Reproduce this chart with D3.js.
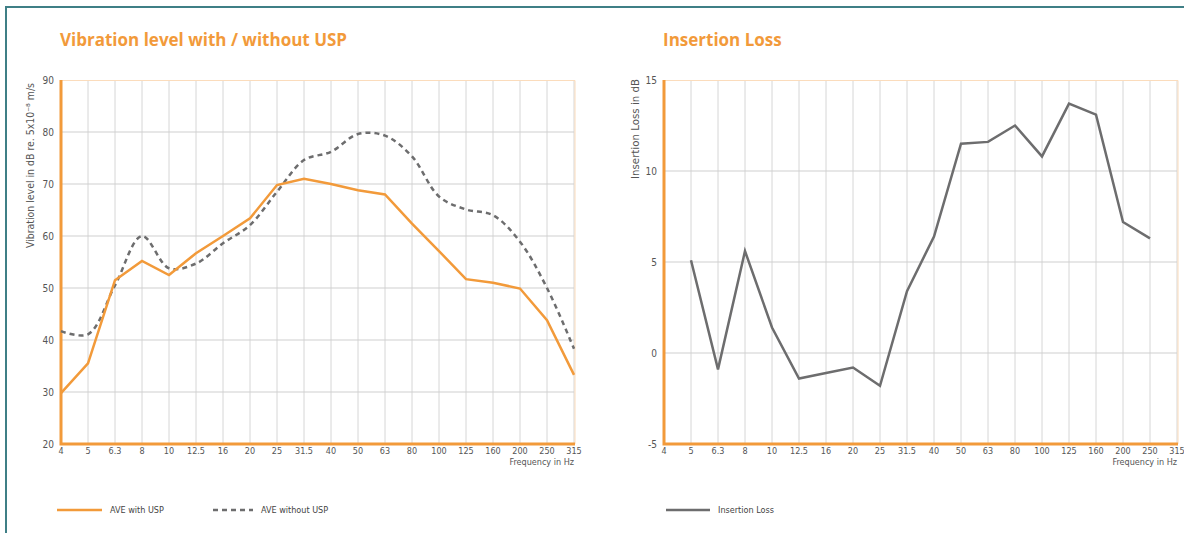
<!DOCTYPE html>
<html>
<head>
<meta charset="utf-8">
<script src="https://cdn.jsdelivr.net/npm/d3@7"></script>
<style>
  body { margin: 0; background: #fff; }
  svg { display: block; font-family: "Open Sans", "DejaVu Sans", sans-serif; }
  .tick-lbl { font-family: "DejaVu Sans Condensed", "Liberation Sans Narrow", sans-serif; font-size: 9px; fill: #555; }
</style>
</head>
<body>
<svg id="chart" width="1184" height="533"></svg>
<script>
// Data
var freqs = ["4", "5", "6.3", "8", "10", "12.5", "16", "20", "25", "31.5", "40", "50", "63", "80", "100", "125", "160", "200", "250", "315"];
var withUSP = [29.8, 35.5, 51.5, 55.2, 52.5, 56.7, 60.0, 63.4, 69.8, 71.0, 70.0, 68.8, 68.0, 62.4, 57.1, 51.7, 51.0, 49.9, 43.8, 33.3];
var withoutUSP = [41.7, 41.1, 50.5, 60.0, 53.8, 54.7, 58.6, 62.1, 68.5, 74.6, 76.2, 79.6, 79.3, 75.3, 67.6, 65.1, 64.0, 58.9, 50.0, 38.3];
var lossFreqs = ["5", "6.3", "8", "10", "12.5", "16", "20", "25", "31.5", "40", "50", "63", "80", "100", "125", "160", "200", "250"];
var insertionLoss = [5.1, -0.9, 5.6, 1.4, -1.4, -1.1, -0.8, -1.8, 3.4, 6.4, 11.5, 11.6, 12.5, 10.8, 13.7, 13.1, 7.2, 6.3];
var vibTicks = [20, 30, 40, 50, 60, 70, 80, 90];
var lossTicks = [-5, 0, 5, 10, 15];

const orange = "#f29a3a";
const grey = "#6d6d6e";
const svg = d3.select("#chart");

// frame
svg.append("path")
  .attr("d", "M6,540 L6,7 L1190,7")
  .style("fill", "none")
  .style("stroke", "#3f7f86")
  .style("stroke-width", 2);

drawPanel = function(opt) {
  const g = svg.append("g").attr("transform", `translate(${opt.left}, 80)`);
  const width = 513, height = 364;

  const x = d3.scalePoint().domain(freqs).range([0, width]);
  const y = d3.scaleLinear().domain(opt.yDomain).range([height, 0]);

  // title
  svg.append("text")
    .attr("x", opt.left - 1).attr("y", 46)
    .text(opt.title)
    .style("font-size", "17px").style("font-weight", "bold")
    .style("fill", orange);

  // grid
  g.append("g").selectAll("line").data(freqs.slice(1))
    .join("line")
    .attr("x1", d => x(d)).attr("x2", d => x(d))
    .attr("y1", 0).attr("y2", height)
    .style("stroke", "#d6d6d6").style("stroke-width", 1);
  g.append("g").selectAll("line").data(opt.ticks.slice(1, -1))
    .join("line")
    .attr("x1", 0).attr("x2", width)
    .attr("y1", d => y(d)).attr("y2", d => y(d))
    .style("stroke", "#cfcfcf").style("stroke-width", 1);
  // top / right light border
  g.append("path")
    .attr("d", `M0,0.5 H${width + 1} V${height}`)
    .style("fill", "none").style("stroke", "#fbdcbc").style("stroke-width", 1);

  // y ticks
  g.append("g").selectAll("text").data(opt.ticks)
    .join("text")
    .attr("class", "tick-lbl")
    .attr("x", -7).attr("y", d => y(d) + 3.5)
    .attr("text-anchor", "end")
    .style("font-size", "10px")
    .text(d => d);

  // x ticks
  g.append("g").selectAll("text").data(freqs)
    .join("text")
    .attr("class", "tick-lbl")
    .attr("x", d => x(d)).attr("y", height + 10)
    .attr("text-anchor", "middle")
    .text(d => d);

  g.append("text")
    .attr("class", "tick-lbl")
    .attr("x", width).attr("y", height + 21)
    .attr("text-anchor", "end")
    .text("Frequency in Hz");

  // y label
  g.append("text")
    .attr("class", "tick-lbl")
    .attr("transform", `translate(${opt.yLabelX}, ${opt.yLabelY}) rotate(-90)`)
    .attr("text-anchor", "end")
    .attr("textLength", opt.yLabelLen)
    .attr("lengthAdjust", "spacingAndGlyphs")
    .style("font-size", "10px")
    .text(opt.yLabel);

  // axes lines
  g.append("path")
    .attr("d", `M0,0 V${height} H${width + 1}`)
    .style("fill", "none").style("stroke", orange).style("stroke-width", 3);

  return {g: g, x: x, y: y};
};

// Left chart
var left = drawPanel({
  left: 61, title: "Vibration level with / without USP",
  yDomain: [20, 90], ticks: vibTicks,
  yLabel: "Vibration level in dB re. 5x10\u207B\u2078 m/s", yLabelX: -27, yLabelY: 3, yLabelLen: 165
});

var lineL = d3.line()
  .x((d, i) => left.x(freqs[i]))
  .y(d => left.y(d));

left.g.append("path")
  .datum(withoutUSP)
  .attr("d", lineL.curve(d3.curveCatmullRom.alpha(0.5)))
  .style("fill", "none").style("stroke", grey)
  .style("stroke-width", 2.5).style("stroke-dasharray", "5,4");

left.g.append("path")
  .datum(withUSP)
  .attr("d", lineL.curve(d3.curveLinear))
  .style("fill", "none").style("stroke", orange).style("stroke-width", 2.5);

// Right chart
var right = drawPanel({
  left: 664, title: "Insertion Loss",
  yDomain: [-5, 15], ticks: lossTicks,
  yLabel: "Insertion Loss in dB", yLabelX: -25, yLabelY: -1, yLabelLen: 100
});

var lineR = d3.line()
  .x((d, i) => right.x(lossFreqs[i]))
  .y(d => right.y(d));

right.g.append("path")
  .datum(insertionLoss)
  .attr("d", lineR)
  .style("fill", "none").style("stroke", grey).style("stroke-width", 2.5);

// Legends
var legendItems = [
  {x: 57, label: "AVE with USP", color: orange, dash: null, len: 45},
  {x: 213, label: "AVE without USP", color: grey, dash: "5,4", len: 40},
  {x: 666, label: "Insertion Loss", color: grey, dash: null, len: 44}
];

const legend = svg.append("g");
legendItems.forEach(function(d) {
  legend.append("line")
    .attr("x1", d.x).attr("x2", d.x + d.len)
    .attr("y1", 510).attr("y2", 510)
    .style("stroke", d.color).style("stroke-width", 2.5)
    .style("stroke-dasharray", d.dash);
  legend.append("text")
    .attr("class", "tick-lbl")
    .attr("x", d.x + d.len + 8).attr("y", 513)
    .style("fill", "#444")
    .text(d.label);
});
</script>
</body>
</html>
